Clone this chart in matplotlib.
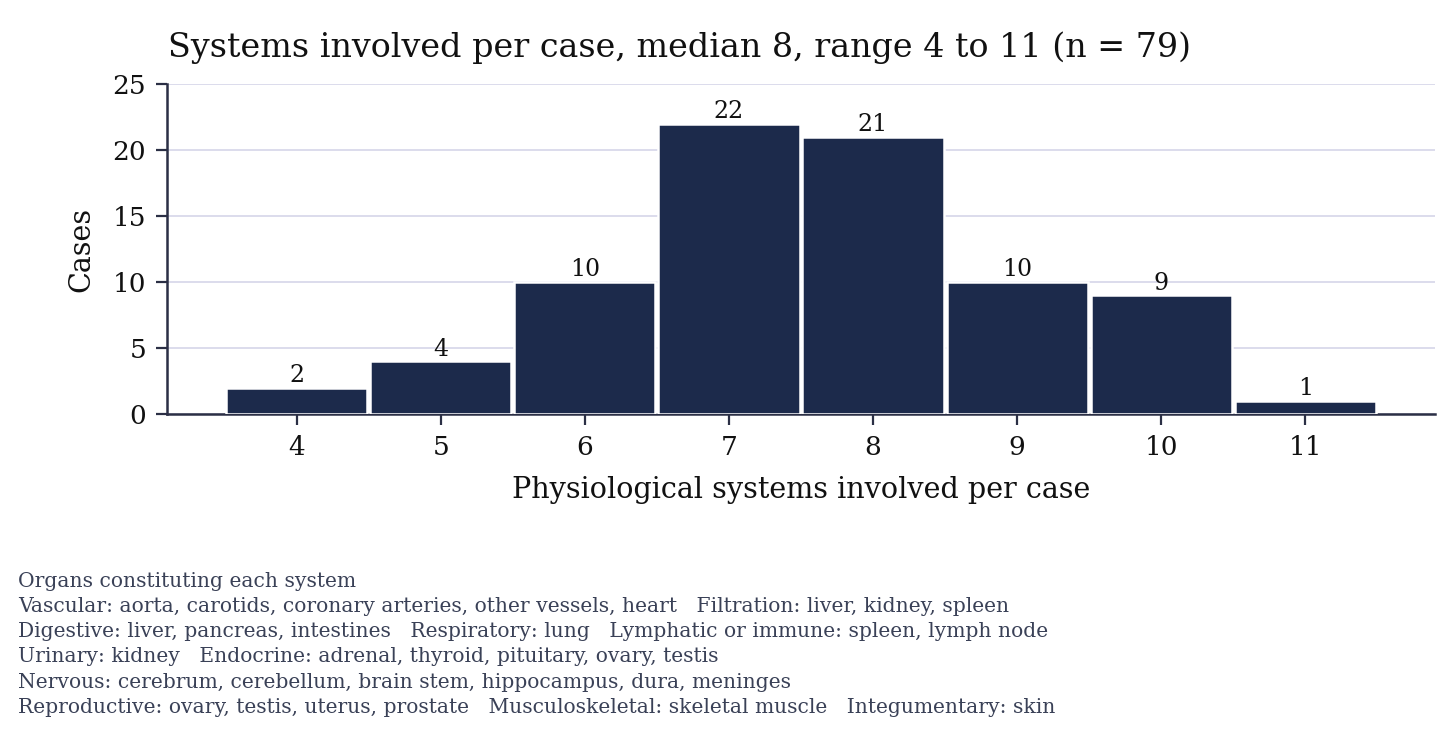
import matplotlib
matplotlib.use("Agg")
import matplotlib.pyplot as plt

# systems involved per case -> number of cases
systems = [4, 5, 6, 7, 8, 9, 10, 11]
cases = [2, 4, 10, 22, 21, 10, 9, 1]

title = "Systems involved per case, median 8, range 4 to 11 (n = 79)"
footnote_lines = [
    "Organs constituting each system",
    "Vascular: aorta, carotids, coronary arteries, other vessels, heart   Filtration: liver, kidney, spleen",
    "Digestive: liver, pancreas, intestines   Respiratory: lung   Lymphatic or immune: spleen, lymph node",
    "Urinary: kidney   Endocrine: adrenal, thyroid, pituitary, ovary, testis",
    "Nervous: cerebrum, cerebellum, brain stem, hippocampus, dura, meninges",
    "Reproductive: ovary, testis, uterus, prostate   Musculoskeletal: skeletal muscle   Integumentary: skin",
]

plt.rcParams["font.family"] = "DejaVu Serif"
navy = "#1c2a4b"
axis_col = "#2b2f45"

fig = plt.figure(figsize=(7.28, 3.67), dpi=200)
ax = fig.add_axes([167 / 1456, 1 - 414 / 734, (1435 - 167) / 1456, (414 - 84) / 734])

bars = ax.bar(systems, cases, width=0.98, color=navy, edgecolor="white", linewidth=0.9, zorder=3)
for x, v in zip(systems, cases):
    ax.text(x, v + 0.05, str(v), ha="center", va="bottom", fontsize=8.5, color="#111111", zorder=4)

ax.set_xlim(3.1, 11.9)
ax.set_ylim(0, 25)
ax.set_xticks(systems)
ax.set_yticks([0, 5, 10, 15, 20, 25])
ax.yaxis.grid(True, color="#dcdcec", linewidth=0.7, zorder=0)
ax.set_axisbelow(True)
for s in ["top", "right"]:
    ax.spines[s].set_visible(False)
for s in ["left", "bottom"]:
    ax.spines[s].set_color(axis_col)
    ax.spines[s].set_linewidth(0.9)
ax.tick_params(colors=axis_col, labelcolor="#111111", labelsize=9.5, length=4, width=0.8)

ax.set_xlabel("Physiological systems involved per case", fontsize=10.3, color="#111111", labelpad=6)
ax.set_ylabel("Cases", fontsize=10.3, color="#111111", labelpad=6)
fig.text(168 / 1456, 1 - 48 / 734, title, fontsize=12, color="#111111", va="center", ha="left")

fig.text(18 / 1456, 1 - 572 / 734, "\n".join(footnote_lines), fontsize=7.3, color="#3a4157",
         va="top", ha="left", linespacing=1.41)

fig.savefig("out.png", dpi=200)
